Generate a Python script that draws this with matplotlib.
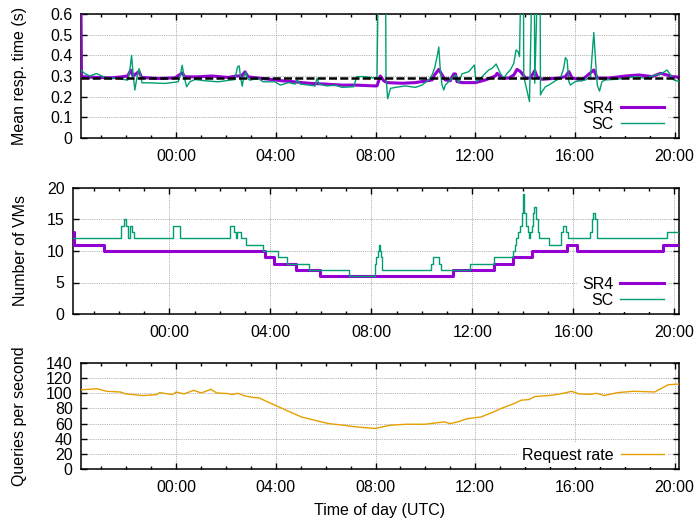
# Response time, VM count and request rate over one day, three stacked panels.

import matplotlib.pyplot as plt
import numpy as np
from matplotlib.ticker import MultipleLocator

plt.rcParams['font.family'] = ['Liberation Sans', 'DejaVu Sans']
plt.rcParams['font.size'] = 11.5

# time is in hours relative to 00:00 UTC (negative = previous evening)
tick_hours = [0, 4, 8, 12, 16, 20]
tick_labels = ['00:00', '04:00', '08:00', '12:00', '16:00', '20:00']
x_lo, x_hi = -3.82, 20.18

# mean response time (s)
sr4_t = [-3.82, -3.80, -3.73, -3.13, -2.60, -2.19, -1.95, -1.82, -1.73, -1.49, -1.39,
         -0.72, -0.05, 0.24, 0.35, 0.88, 1.42, 2.09, 2.42, 2.62, 2.76, 2.89, 3.43,
         3.83, 4.23, 4.65, 5.32, 5.98, 6.65, 7.19, 7.99, 8.06, 8.19, 8.33, 8.46,
         9.06, 9.60, 10.27, 10.37, 10.54, 10.67, 10.80, 11.00, 11.14, 11.21, 11.27,
         11.47, 12.01, 12.41, 12.81, 12.88, 13.08, 13.35, 13.55, 13.68, 13.82, 14.02,
         14.22, 14.39, 14.48, 14.68, 15.35, 15.62, 15.76, 15.89, 16.29, 16.76, 16.90,
         17.36, 18.03, 18.57, 19.10, 19.44, 19.70, 19.90, 20.18]
sr4_rt = [0.62, 0.300, 0.296, 0.293, 0.291, 0.296, 0.300, 0.328, 0.300, 0.322, 0.293,
          0.288, 0.291, 0.315, 0.296, 0.296, 0.300, 0.293, 0.300, 0.300, 0.320, 0.296, 0.288,
          0.283, 0.277, 0.273, 0.265, 0.261, 0.256, 0.256, 0.252, 0.252, 0.300, 0.277, 0.268,
          0.265, 0.268, 0.281, 0.305, 0.332, 0.305, 0.281, 0.277, 0.310, 0.310, 0.273,
          0.268, 0.268, 0.281, 0.300, 0.313, 0.290, 0.290, 0.305, 0.332, 0.321, 0.290,
          0.290, 0.326, 0.297, 0.284, 0.290, 0.297, 0.321, 0.290, 0.281, 0.329, 0.290,
          0.290, 0.300, 0.305, 0.297, 0.313, 0.305, 0.297, 0.294]

sc_t = [-3.82, -3.67, -3.47, -3.20, -2.86, -2.33, -1.95, -1.86, -1.79, -1.73, -1.66,
        -1.57, -1.49, -1.42, -1.37, -1.12, -0.45, 0.08, 0.15, 0.24, 0.32, 0.42, 0.55,
        0.75, 1.15, 1.69, 2.36, 2.46, 2.53, 2.58, 2.65, 2.72, 2.80, 2.86, 2.96, 3.29,
        3.49, 3.96, 4.18, 4.51, 4.78, 4.85, 4.98, 5.32, 5.58, 5.65, 5.74, 6.05, 6.39,
        6.65, 7.12, 7.25, 7.59, 7.99, 8.06, 8.13, 8.40, 8.42, 8.49, 8.60, 8.80, 9.20,
        9.60, 9.87, 10.13, 10.27, 10.37, 10.47, 10.54, 10.60, 10.67, 10.74, 10.80,
        10.94, 11.14, 11.21, 11.27, 11.34, 11.47, 11.74, 11.97, 12.01, 12.05, 12.28,
        12.54, 12.68, 12.84, 13.01, 13.15, 13.28, 13.41, 13.55, 13.64, 13.72, 13.78,
        13.86, 13.93, 13.95, 14.18, 14.31, 14.37, 14.39, 14.55, 14.60, 14.62, 14.68,
        14.82, 14.95, 15.22, 15.42, 15.55, 15.62, 15.69, 15.76, 15.82, 16.02, 16.43,
        16.63, 16.72, 16.76, 16.83, 16.90, 16.99, 17.09, 17.23, 17.63, 18.03, 18.43,
        18.83, 19.24, 19.50, 19.70, 19.84, 19.97, 20.18]
sc_rt = [0.328, 0.312, 0.300, 0.312, 0.293, 0.288, 0.280, 0.328, 0.400, 0.312, 0.232,
         0.296, 0.336, 0.296, 0.267, 0.267, 0.264, 0.272, 0.296, 0.352, 0.296, 0.248, 0.272,
         0.283, 0.277, 0.272, 0.283, 0.344, 0.349, 0.296, 0.251, 0.300, 0.320, 0.288, 0.280, 0.288,
         0.272, 0.272, 0.256, 0.268, 0.261, 0.281, 0.261, 0.256, 0.252, 0.289, 0.261, 0.252, 0.256,
         0.245, 0.248, 0.297, 0.297, 0.289, 0.297, 0.95, 0.95, 0.297, 0.190, 0.240, 0.245, 0.252,
         0.245, 0.256, 0.281, 0.305, 0.337, 0.393, 0.440, 0.329, 0.256, 0.232, 0.256,
         0.273, 0.297, 0.305, 0.289, 0.268, 0.310, 0.321, 0.353, 0.297, 0.273, 0.297,
         0.329, 0.337, 0.358, 0.313, 0.289, 0.313, 0.329, 0.361, 0.426, 0.418, 0.394,
         0.95, 0.95, 0.297, 0.176, 0.95, 0.95, 0.265, 0.95, 0.95, 0.208, 0.224,
         0.248, 0.256, 0.277, 0.289, 0.337, 0.389, 0.377, 0.273, 0.256, 0.273, 0.281,
         0.297, 0.442, 0.510, 0.377, 0.256, 0.227, 0.273, 0.281, 0.284, 0.289, 0.297,
         0.289, 0.305, 0.313, 0.329, 0.305, 0.281, 0.273]
target_rt = 0.29

# number of VMs (step changes)
vm_sr4_t = [-3.82, -3.78, -2.58, 3.78, 4.13, 5.00, 5.96, 11.23, 12.87, 13.62, 14.37,
            15.76, 16.16, 19.56, 20.18]
vm_sr4 = [13, 11, 10, 9, 8, 7, 6, 7, 8, 9, 10, 11, 10, 11, 11]

vm_sc_t = [-3.82, -1.92, -1.79, -1.71, -1.65, -1.55, -1.48, -1.39, 0.16, 0.40, 2.38,
           2.57, 2.63, 2.67, 2.83, 3.03, 3.72, 4.29, 4.66, 5.53, 7.11, 8.14, 8.19,
           8.24, 8.29, 8.33, 8.37, 8.40, 8.43, 10.36, 10.45, 10.68, 10.76, 11.90,
           12.85, 13.59, 13.68, 13.74, 13.79, 13.88, 13.95, 13.99, 14.05, 14.12,
           14.19, 14.23, 14.28, 14.34, 14.41, 14.45, 14.52, 14.58, 14.65, 15.05,
           15.51, 15.58, 15.71, 15.80, 16.64, 16.74, 16.79, 16.87, 16.94, 19.72, 20.18]
vm_sc = [12, 14, 15, 14, 12, 14, 13, 12, 14, 12, 14,
         13, 12, 13, 12, 11, 10, 9, 8, 7, 6, 8, 9,
         10, 11, 10, 9, 8, 7, 8, 9, 8, 7, 8,
         9, 10, 11, 12, 13, 14, 16, 19, 16, 14,
         13, 12, 13, 14, 16, 17, 15, 13, 12, 11,
         13, 14, 13, 12, 13, 15, 16, 15, 12, 13, 13]

# request rate (queries per second)
rate_t = [-3.82, -3.72, -3.17, -2.79, -2.24, -2.01, -1.32, -0.77, -0.67, -0.15, 0.00,
          0.31, 0.70, 1.01, 1.39, 1.63, 2.09, 2.24, 2.48, 2.71, 3.02, 3.33, 3.64, 4.02,
          4.49, 5.03, 5.73, 6.11, 6.73, 7.20, 7.97, 8.28, 8.59, 9.21, 9.98, 10.76,
          10.99, 11.30, 11.69, 12.23, 12.69, 13.08, 13.54, 13.85, 14.16, 14.40, 15.09,
          15.48, 15.87, 16.18, 16.64, 16.87, 17.18, 17.72, 18.34, 18.81, 19.20, 19.43,
          19.74, 20.18]
rate = [104.5, 104.8, 106.0, 102.6, 101.7, 99.1, 97.0, 98.3, 100.9, 98.3, 101.7,
        99.1, 103.9, 100.4, 105.2, 100.4, 99.6, 98.3, 100.0, 97.0, 94.8, 93.9, 89.1, 83.5,
        76.5, 68.7, 63.0, 60.0, 57.8, 55.7, 53.5, 55.7, 57.8, 59.1, 59.1, 62.2,
        60.0, 62.2, 66.5, 68.7, 74.8, 80.4, 86.1, 90.9, 91.7, 95.7, 97.4,
        99.6, 102.6, 99.1, 98.7, 100.0, 97.0, 100.9, 102.6, 102.2, 101.7, 105.7,
        111.3, 112.2]

purple = '#9400d3'
green = '#009e73'
orange = '#e69f00'

W, H = 695, 522
fig = plt.figure(figsize=(W / 100, H / 100), dpi=100)
ax1 = fig.add_axes([81 / W, 1 - 138 / H, 598 / W, 124 / H])
ax2 = fig.add_axes([73 / W, 1 - 314 / H, 606 / W, 126 / H])
ax3 = fig.add_axes([81 / W, 1 - 469 / H, 598 / W, 106 / H])


def style(ax):
    ax.set_xlim(x_lo, x_hi)
    ax.set_xticks(tick_hours)
    ax.set_xticklabels(tick_labels)
    ax.xaxis.set_minor_locator(MultipleLocator(1))
    ax.tick_params(which='both', direction='in', top=True, right=True, width=1)
    ax.tick_params(which='major', length=4.5)
    ax.tick_params(which='minor', length=2.5)
    ax.tick_params(axis='x', pad=8)
    ax.tick_params(axis='y', pad=6)
    ax.grid(True, which='major', color='#9a9a9a', linestyle=(0, (1, 1.2)), linewidth=0.6)
    ax.set_axisbelow(True)
    for s in ax.spines.values():
        s.set_linewidth(1.1)


def key(ax):
    ax.legend(loc='lower right', bbox_to_anchor=(0.985, 0.0), markerfirst=False,
              frameon=True, fancybox=False, edgecolor='none', facecolor='white',
              framealpha=1, handlelength=2.7, handletextpad=0.45, labelspacing=0.05,
              borderpad=0.3, borderaxespad=0.1, fontsize=11.5)


# top: response time
ax1.plot(sr4_t, sr4_rt, color=purple, lw=2.2, label='SR4', zorder=3)
ax1.plot(sc_t, sc_rt, color=green, lw=1.0, label='SC', zorder=4)
ax1.axhline(target_rt, color='black', lw=1.8, ls=(0, (3.2, 1.3)), zorder=5)
ax1.set_ylim(0, 0.6)
ax1.set_yticks(np.arange(0, 0.61, 0.1))
ax1.set_yticklabels(['0', '0.1', '0.2', '0.3', '0.4', '0.5', '0.6'])
ax1.set_ylabel('Mean resp. time (s)')
ax1.yaxis.set_label_coords(-0.09, 0.5)
style(ax1)
key(ax1)

# middle: number of VMs
ax2.step(vm_sr4_t, vm_sr4, where='post', color=purple, lw=2.2, label='SR4', zorder=3)
ax2.step(vm_sc_t, vm_sc, where='post', color=green, lw=1.0, label='SC', zorder=4)
ax2.set_ylim(0, 20)
ax2.set_yticks([0, 5, 10, 15, 20])
ax2.set_ylabel('Number of VMs')
ax2.yaxis.set_label_coords(-0.075, 0.5)
style(ax2)
key(ax2)

# bottom: request rate
ax3.plot(rate_t, rate, color=orange, lw=1.0, label='Request rate', zorder=3)
ax3.set_ylim(0, 140)
ax3.set_yticks(np.arange(0, 141, 20))
ax3.set_ylabel('Queries per second')
ax3.yaxis.set_label_coords(-0.09, 0.5)
ax3.set_xlabel('Time of day (UTC)', labelpad=6)
style(ax3)
key(ax3)

fig.savefig('out.png', dpi=100)
